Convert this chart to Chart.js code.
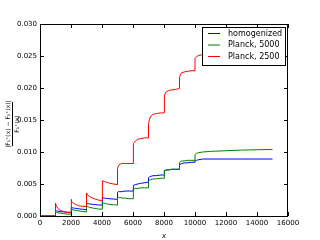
<!DOCTYPE html>
<html>
<head>
<meta charset="utf-8">
<script src="https://cdn.jsdelivr.net/npm/chart.js@4/dist/chart.umd.min.js"></script>
<style>
  body { margin: 0; background: #fff; }
  #wrap { width: 320px; height: 240px; }
</style>
</head>
<body>
<div id="wrap"><canvas id="stepChart" width="320" height="240"></canvas></div>
<script>
// x positions shared by the three curves (steps at every 1000)
const xs = [
  0, 1000,
  1000, 1050, 1150, 1300, 1500, 1750, 2000,
  2000, 2050, 2150, 2300, 2500, 2750, 3000,
  3000, 3050, 3150, 3300, 3500, 3750, 4000,
  4000, 4050, 4150, 4300, 4500, 4750, 5000,
  5000, 5050, 5150, 5300, 5500, 5750, 6000,
  6000, 6050, 6150, 6300, 6500, 6750, 7000,
  7000, 7050, 7150, 7300, 7500, 7750, 8000,
  8000, 8050, 8150, 8300, 8500, 8750, 9000,
  9000, 9050, 9150, 9300, 9500, 9750, 10000,
  10000, 10100, 10250, 10500, 11000, 12000, 13000, 15000
];

const homogenized = [
  0, 0,
  0.00085, 0.0008, 0.00075, 0.0007, 0.00065, 0.0006, 0.0006,
  0.00135, 0.0013, 0.00125, 0.0012, 0.00112, 0.00105, 0.0010,
  0.0020, 0.00195, 0.0019, 0.00185, 0.0018, 0.00172, 0.0017,
  0.0029, 0.00285, 0.0028, 0.00275, 0.0027, 0.00265, 0.0026,
  0.0037, 0.0038, 0.0038, 0.0038, 0.0039, 0.0039, 0.0039,
  0.0046, 0.0048, 0.0049, 0.0050, 0.0051, 0.0052, 0.0053,
  0.0060, 0.0061, 0.0062, 0.0063, 0.0063, 0.0064, 0.0064,
  0.0069, 0.0071, 0.0072, 0.0072, 0.0073, 0.0073, 0.0073,
  0.0079, 0.0081, 0.0082, 0.0083, 0.0083, 0.0084, 0.0084,
  0.0086, 0.0087, 0.0088, 0.0089, 0.0089, 0.0089, 0.0089, 0.0089
];

const planck5000 = [
  0, 0,
  0.00065, 0.0006, 0.0005, 0.00045, 0.00038, 0.0003, 0.00027,
  0.00105, 0.0010, 0.00095, 0.00088, 0.0008, 0.0007, 0.00065,
  0.00155, 0.0015, 0.0014, 0.0013, 0.0012, 0.0011, 0.00105,
  0.0021, 0.00205, 0.0020, 0.0019, 0.0018, 0.00175, 0.0017,
  0.0029, 0.0029, 0.0029, 0.0028, 0.0028, 0.0027, 0.0027,
  0.0041, 0.0042, 0.0043, 0.0043, 0.0044, 0.0044, 0.0044,
  0.0054, 0.0056, 0.0057, 0.0058, 0.0058, 0.0059, 0.0059,
  0.0070, 0.0071, 0.0072, 0.0072, 0.0073, 0.0073, 0.0073,
  0.0083, 0.0085, 0.0086, 0.0086, 0.0087, 0.0087, 0.0087,
  0.0096, 0.0098, 0.0099, 0.0100, 0.0101, 0.0102, 0.0103, 0.0104
];

const planck2500 = [
  0, 0,
  0.0020, 0.0016, 0.0012, 0.0009, 0.0007, 0.00055, 0.0005,
  0.0026, 0.0023, 0.0020, 0.0018, 0.0016, 0.0015, 0.0015,
  0.0036, 0.0034, 0.0031, 0.0029, 0.0027, 0.0025, 0.0024,
  0.0055, 0.0055, 0.0054, 0.0053, 0.0051, 0.0050, 0.0049,
  0.0074, 0.0078, 0.0081, 0.0082, 0.0082, 0.0082, 0.0082,
  0.0108, 0.0113, 0.0117, 0.0120, 0.0121, 0.0122, 0.0122,
  0.0143, 0.0150, 0.0156, 0.0159, 0.0160, 0.0161, 0.0161,
  0.0184, 0.0189, 0.0194, 0.0196, 0.0197, 0.0198, 0.0199,
  0.0216, 0.0220, 0.0224, 0.0225, 0.0226, 0.0227, 0.0227,
  0.0246, 0.0249, 0.0251, 0.0252, 0.0253, 0.0254, 0.0255, 0.0256
];

const seriesNames = ['homogenized', 'Planck, 5000', 'Planck, 2500'];
const seriesColors = ['#0000ff', '#008000', '#ff0000'];

const toPoints = arr => xs.map((x, i) => ({ x: x, y: arr[i] }));

Chart.defaults.font.family = 'DejaVu Sans';
Chart.defaults.color = '#000';

// matplotlib look: frame, inward ticks, legend box, fraction y-label
const mplDecor = {
  id: 'mplDecor',
  afterDatasetsDraw(chart) {
    const { ctx, chartArea: a, scales } = chart;
    ctx.save();
    ctx.strokeStyle = '#000';
    ctx.lineWidth = 1;
    ctx.strokeRect(a.left + 0.5, a.top + 0.5, a.right - a.left - 1, a.bottom - a.top);
    ctx.beginPath();
    scales.x.ticks.forEach(t => {
      const px = Math.round(scales.x.getPixelForValue(t.value)) + 0.5;
      ctx.moveTo(px, a.bottom); ctx.lineTo(px, a.bottom - 4);
      ctx.moveTo(px, a.top); ctx.lineTo(px, a.top + 4);
    });
    scales.y.ticks.forEach(t => {
      const py = Math.round(scales.y.getPixelForValue(t.value)) + 0.5;
      ctx.moveTo(a.left, py); ctx.lineTo(a.left + 4, py);
      ctx.moveTo(a.right, py); ctx.lineTo(a.right - 4, py);
    });
    ctx.stroke();

    // legend
    const lx = 202, ly = 27, lw = 83, lh = 38;
    ctx.fillStyle = '#fff';
    ctx.fillRect(lx, ly, lw, lh);
    ctx.strokeStyle = '#000';
    ctx.strokeRect(lx + 0.5, ly + 0.5, lw, lh);
    ctx.font = '8px "DejaVu Sans"';
    ctx.textBaseline = 'middle';
    const rows = [33.5, 45, 56.5];
    seriesNames.forEach((name, i) => {
      ctx.strokeStyle = seriesColors[i];
      ctx.beginPath();
      ctx.moveTo(208, rows[i]); ctx.lineTo(220, rows[i]);
      ctx.stroke();
      ctx.fillStyle = '#000';
      ctx.fillText(name, 228, rows[i]);
    });

    // y-axis label as a rotated fraction
    ctx.translate(12, 124);
    ctx.rotate(-Math.PI / 2);
    ctx.font = '6px "DejaVu Sans"';
    ctx.textAlign = 'center';
    ctx.textBaseline = 'alphabetic';
    ctx.fillText('|F\u2081\u207A(x) \u2212 F\u2081\u207A(x)|', 0, -2);
    ctx.beginPath();
    ctx.moveTo(-22, 0.5); ctx.lineTo(22, 0.5);
    ctx.strokeStyle = '#000';
    ctx.stroke();
    ctx.textBaseline = 'top';
    ctx.fillText('F\u2081\u207A(x)', 0, 2);
    ctx.restore();
  }
};

new Chart(document.getElementById('stepChart').getContext('2d'), {
  type: 'line',
  data: {
    datasets: [
      { label: seriesNames[0], data: toPoints(homogenized), borderColor: seriesColors[0], order: 3 },
      { label: seriesNames[1], data: toPoints(planck5000), borderColor: seriesColors[1], order: 2 },
      { label: seriesNames[2], data: toPoints(planck2500), borderColor: seriesColors[2], order: 1 }
    ]
  },
  options: {
    responsive: false,
    animation: false,
    layout: { padding: { top: 24, right: 32, left: 0, bottom: 0 } },
    elements: {
      line: { borderWidth: 1, tension: 0, fill: false },
      point: { radius: 0 }
    },
    plugins: {
      legend: { display: false },
      tooltip: { enabled: false }
    },
    scales: {
      x: {
        type: 'linear',
        min: 0,
        max: 16000,
        grid: { drawOnChartArea: false, drawTicks: false },
        border: { display: false },
        ticks: { stepSize: 2000, padding: 3, maxRotation: 0, font: { size: 7 }, callback: v => String(v) },
        title: { display: true, text: 'x', font: { size: 7, style: 'italic' }, padding: { top: 0, bottom: 0 } },
        afterFit: s => { s.height = 24; }
      },
      y: {
        min: 0,
        max: 0.03,
        grid: { drawOnChartArea: false, drawTicks: false },
        border: { display: false },
        ticks: { stepSize: 0.005, padding: 3, font: { size: 7 }, callback: v => v.toFixed(3) },
        afterFit: s => { s.width = 40; }
      }
    }
  },
  plugins: [mplDecor]
});
</script>
</body>
</html>
